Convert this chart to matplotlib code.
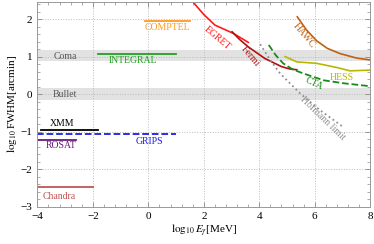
import matplotlib
matplotlib.use('Agg')
import matplotlib.pyplot as plt
from matplotlib.ticker import AutoMinorLocator

plt.rcParams['font.family'] = ['Liberation Serif', 'DejaVu Serif']
plt.rcParams['mathtext.fontset'] = 'stix'

# flat instrument ranges: (xmin, xmax, log10 FWHM)
comptel = (-0.12, 1.5, 1.95)
integral = (-1.82, 1.0, 1.08)
xmm = (-3.88, -1.8, -0.95)
grips = (-4.0, 1.0, -1.07)
rosat = (-4.0, -2.6, -1.22)
chandra = (-4.0, -2.0, -2.48)

# curves
egret_x = [1.65, 2.0, 2.4, 3.06, 3.6]
egret_y = [2.42, 2.12, 1.84, 1.62, 1.38]
fermi_x = [3.02, 3.3, 3.6, 4.2, 4.81, 5.1, 5.35]
fermi_y = [1.66, 1.45, 1.26, 0.95, 0.73, 0.67, 0.65]
cta_x = [4.34, 4.6, 4.86, 5.2, 5.59, 6.31, 7.03, 8.0]
cta_y = [1.31, 1.03, 0.82, 0.66, 0.55, 0.37, 0.29, 0.21]
hess_x = [4.93, 5.35, 6.07, 6.79, 7.27, 8.0]
hess_y = [1.0, 0.86, 0.82, 0.71, 0.62, 0.64]
hawc_x = [5.37, 5.7, 6.07, 6.45, 6.91, 7.51, 8.0]
hawc_y = [2.06, 1.71, 1.42, 1.22, 1.08, 0.96, 0.91]
hof_x = [4.03, 4.4, 4.75, 5.47, 6.19, 7.03]
hof_y = [1.33, 0.9, 0.55, 0.02, -0.43, -0.88]

coma = (0.87, 1.17)
bullet = (-0.15, 0.15)

fig = plt.figure(figsize=(3.74, 2.44), dpi=100)
ax = fig.add_axes([0.1, 0.153, 0.89, 0.838])

ax.axhspan(*coma, color='#e2e2e2', zorder=0, lw=0)
ax.axhspan(*bullet, color='#e2e2e2', zorder=0, lw=0)

def flat(r, c, ls='-'):
    ax.plot([r[0], r[1]], [r[2], r[2]], color=c, lw=1.3, ls=ls)

flat(comptel, '#ff9a1f')
flat(integral, '#22a022')
flat(xmm, 'black')
flat(grips, '#1a1aee', '--')
flat(rosat, '#6a1a7a')
flat(chandra, '#c05555')

ax.plot(egret_x, egret_y, color='#ff1a1a', lw=1.2)
ax.plot(fermi_x, fermi_y, color='#b01010', lw=1.2)
ax.plot(cta_x, cta_y, color='#1a8a1a', lw=1.3, ls='--')
ax.plot(hess_x, hess_y, color='#b8b800', lw=1.2)
ax.plot(hawc_x, hawc_y, color='#c06010', lw=1.2)
ax.plot(hof_x, hof_y, color='#909090', lw=1.3, ls=':')

fs = 7
ax.text(0.7, 1.78, 'COMPTEL', color='#ff9a1f', fontsize=fs, ha='center', va='center')
ax.text(-0.55, 0.9, 'INTEGRAL', color='#22a022', fontsize=fs, ha='center', va='center')
ax.text(-3.0, 1.0, 'Coma', color='#555555', fontsize=fs, ha='center', va='center')
ax.text(-3.0, -0.02, 'Bullet', color='#555555', fontsize=fs, ha='center', va='center')
ax.text(-3.1, -0.78, 'XMM', color='black', fontsize=fs, ha='center', va='center')
ax.text(0.05, -1.26, 'GRIPS', color='#1a1aee', fontsize=fs, ha='center', va='center')
ax.text(-3.15, -1.38, 'ROSAT', color='#6a1a7a', fontsize=fs, ha='center', va='center')
ax.text(-3.2, -2.72, 'Chandra', color='#c05555', fontsize=fs, ha='center', va='center')
ax.text(2.5, 1.5, 'EGRET', color='#ff1a1a', fontsize=fs, ha='center', va='center', rotation=-40)
ax.text(3.66, 1.0, 'Fermi', color='#b01010', fontsize=fs, ha='center', va='center', rotation=-50)
ax.text(5.62, 1.55, 'HAWC', color='#c06010', fontsize=fs, ha='center', va='center', rotation=-50)
ax.text(6.98, 0.45, 'HESS', color='#b8b800', fontsize=fs, ha='center', va='center')
ax.text(5.98, 0.29, 'CTA', color='#1a8a1a', fontsize=fs, ha='center', va='center', rotation=-25)
ax.text(6.3, -0.66, 'Hofmann limit', color='#909090', fontsize=fs, ha='center', va='center', rotation=-44)

ax.set_xlim(-4, 8)
ax.set_ylim(-3, 2.45)
ax.set_xticks([-4, -2, 0, 2, 4, 6, 8])
ax.set_xticklabels(['\u22124', '\u22122', '0', '2', '4', '6', '8'])
ax.set_yticks([-3, -2, -1, 0, 1, 2])
ax.set_yticklabels(['\u22123', '\u22122', '\u22121', '0', '1', '2'])
ax.xaxis.set_minor_locator(AutoMinorLocator(5))
ax.yaxis.set_minor_locator(AutoMinorLocator(5))
ax.tick_params(which='both', direction='in', top=True, right=True, labelsize=8, color='#888888')
ax.tick_params(which='major', length=3.5, width=0.6)
ax.tick_params(which='minor', length=2, width=0.5)
ax.grid(True, which='major', ls=':', color='#bbbbbb', lw=0.7)
for s in ax.spines.values():
    s.set_color('#999999')
    s.set_linewidth(0.7)

ax.set_xlabel(r'$\log_{10}E_\gamma$[MeV]', fontsize=8, labelpad=2)
ax.set_ylabel(r'$\log_{10}$FWHM[arcmin]', fontsize=8, labelpad=1)

fig.savefig('out.png', dpi=100)
